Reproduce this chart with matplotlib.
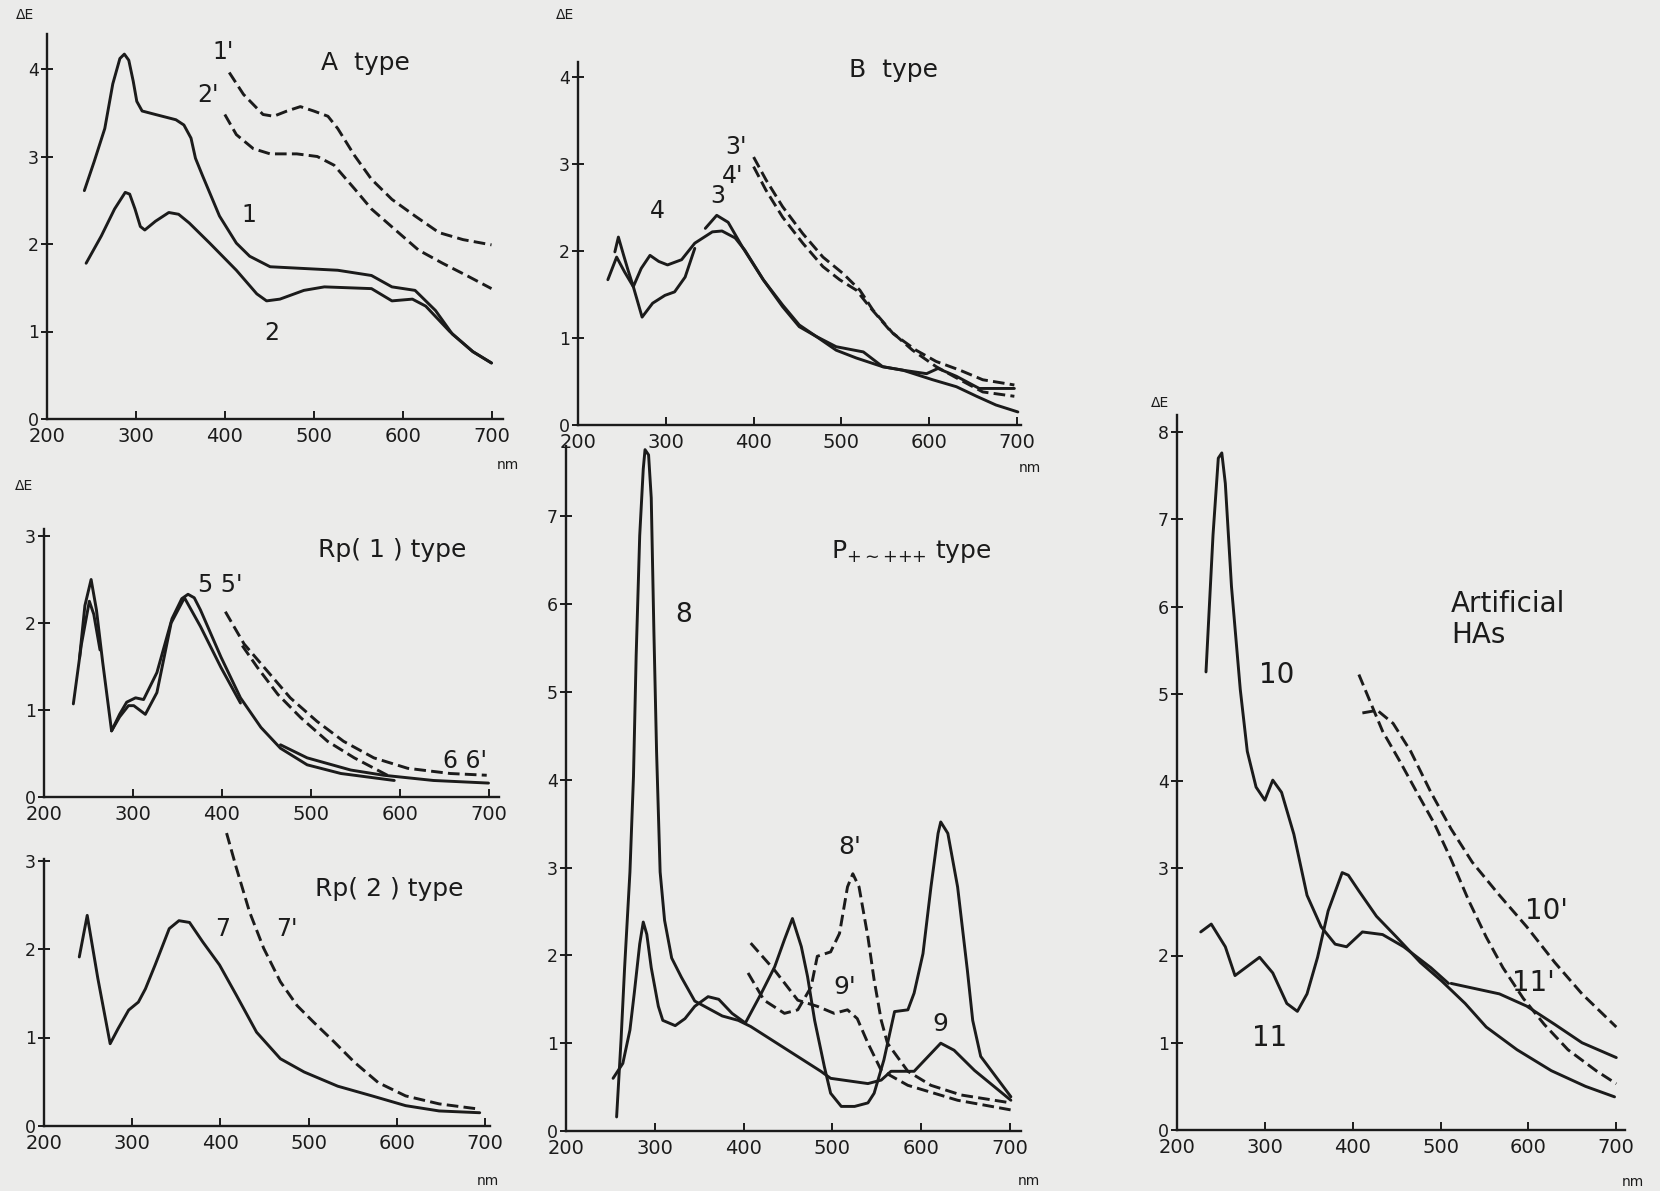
import numpy as np
import matplotlib.pyplot as plt

nan = np.nan
W, H = 1660, 1191
INK = '#1b1b1b'
PAPER = '#ebebea'

# ---- A type ----
a1_nm = [242, 253, 265, 274, 282, 287, 292, 297, 301, 307, 322, 345, 354, 362, 367, 375, 394, 413, 428,
         451, 489, 527, 565, 588, 614, 637, 656, 679, 700]
a1_de = [2.61, 2.94, 3.32, 3.83, 4.12, 4.17, 4.10, 3.86, 3.63, 3.52, 3.48, 3.42, 3.36, 3.21, 2.98, 2.78,
         2.32, 2.01, 1.86, 1.74, 1.72, 1.70, 1.64, 1.51, 1.47, 1.24, 0.97, 0.77, 0.64]
a2_nm = [244, 261, 276, 288, 293, 299, 305, 310, 322, 337, 348, 360, 383, 413, 436, 447, 462, 489, 512,
         565, 588, 611, 626, 653, 679, 700]
a2_de = [1.78, 2.09, 2.40, 2.59, 2.57, 2.40, 2.20, 2.16, 2.26, 2.36, 2.34, 2.24, 2.01, 1.70, 1.43, 1.35,
         1.37, 1.47, 1.51, 1.49, 1.35, 1.37, 1.29, 1.00, 0.77, 0.64]
a1d_nm = [405, 421, 443, 455, 470, 485, 500, 516, 527, 546, 565, 588, 614, 641, 668, 700]
a1d_de = [3.96, 3.71, 3.48, 3.46, 3.52, 3.57, 3.52, 3.46, 3.32, 3.01, 2.74, 2.51, 2.32, 2.13, 2.05, 1.99]
a2d_nm = [400, 413, 432, 451, 481, 504, 523, 546, 565, 592, 618, 645, 672, 700]
a2d_de = [3.48, 3.25, 3.09, 3.03, 3.03, 3.00, 2.90, 2.63, 2.40, 2.16, 1.93, 1.78, 1.64, 1.49]

# ---- B type ----
b3_nm = [234, 244, 253, 263, 273, 285, 299, 310, 322, 333, nan, 345, 358, 371, 387, 392, 411, 433, 452,
         471, 494, 517, 547, 570, 597, 610, 631, 657, 677, 697]
b3_de = [1.67, 1.93, 1.76, 1.59, 1.24, 1.40, 1.49, 1.53, 1.70, 2.03, nan, 2.26, 2.41, 2.33, 2.05, 1.97,
         1.67, 1.36, 1.13, 1.02, 0.86, 0.77, 0.67, 0.63, 0.59, 0.65, 0.56, 0.42, 0.42, 0.42]
b4_nm = [242, 246, 252, 257, 263, 272, 282, 292, 302, 318, 333, 353, 364, 379, 390, 411, 433, 452, 471,
         494, 525, 547, 570, 604, 631, 654, 676, 701]
b4_de = [1.99, 2.16, 1.95, 1.78, 1.59, 1.80, 1.95, 1.88, 1.84, 1.90, 2.09, 2.22, 2.23, 2.15, 2.01, 1.67,
         1.38, 1.15, 1.02, 0.90, 0.84, 0.67, 0.63, 0.52, 0.44, 0.33, 0.23, 0.15]
b3d_nm = [400, 414, 433, 456, 479, 502, 521, 536, 559, 585, 608, 635, 661, 697]
b3d_de = [3.08, 2.82, 2.51, 2.20, 1.93, 1.74, 1.55, 1.32, 1.05, 0.86, 0.73, 0.63, 0.52, 0.46]
b4d_nm = [400, 414, 433, 456, 479, 498, 517, 532, 555, 581, 608, 635, 661, 697]
b4d_de = [2.97, 2.70, 2.39, 2.09, 1.82, 1.67, 1.55, 1.36, 1.09, 0.86, 0.67, 0.52, 0.38, 0.33]

# ---- Rp(1) type ----
rp5_nm = [240, 246, 253, 259, 266, 276, 285, 293, 303, 312, 327, 344, 355, 362, 369, 376, 399, 421, 444,
          466, 496, 534, 594]
rp5_de = [1.60, 2.20, 2.50, 2.15, 1.55, 0.76, 0.95, 1.09, 1.14, 1.12, 1.43, 2.05, 2.28, 2.33, 2.29, 2.15,
          1.61, 1.14, 0.80, 0.56, 0.37, 0.27, 0.19]
rp6_nm = [233, 242, 251, 256, 263, nan, 276, 285, 295, 301, 314, 327, 343, 358, 376, 399, 421, nan,
          466, 496, 545, 582, 638, 700]
rp6_de = [1.07, 1.75, 2.25, 2.10, 1.69, nan, 0.76, 0.92, 1.05, 1.05, 0.95, 1.20, 2.00, 2.29, 1.96, 1.49,
          1.08, nan, 0.60, 0.45, 0.31, 0.25, 0.19, 0.16]
rp5d_nm = [404, 425, 451, 477, 507, 537, 571, 609, 657, 698]
rp5d_de = [2.13, 1.76, 1.45, 1.14, 0.87, 0.64, 0.45, 0.33, 0.27, 0.25]
rp6d_nm = [423, 440, 463, 489, 519, 549, 575, 590]
rp6d_de = [1.74, 1.49, 1.18, 0.91, 0.64, 0.45, 0.31, 0.23]

# ---- Rp(2) type ----
rp7_nm = [240, 249, 261, 275, 284, 296, 307, 315, 326, 342, 353, 365, 380, 399, 418, 441, 468, 495, 533,
          572, 610, 648, 694]
rp7_de = [1.91, 2.38, 1.67, 0.93, 1.10, 1.31, 1.40, 1.55, 1.82, 2.23, 2.32, 2.30, 2.08, 1.82, 1.48, 1.06,
          0.76, 0.61, 0.45, 0.34, 0.23, 0.17, 0.15]
rp7d_nm = [407, 418, 433, 449, 468, 487, 506, 529, 552, 579, 610, 648, 694]
rp7d_de = [3.31, 2.92, 2.42, 2.01, 1.63, 1.36, 1.17, 0.95, 0.72, 0.49, 0.34, 0.25, 0.19]

# ---- P type ----
p8_nm = [257, 262, 266, 272, 276, 279, 283, 287, 289, 293, 296, 299, 302, 306, 311, 319, 330, 345, 376,
         394, 408, 487, 498, 540, 555, 566, 592, 622, 637, 660, 701]
p8_de = [0.16, 1.04, 1.86, 2.95, 4.04, 5.41, 6.78, 7.54, 7.76, 7.70, 7.21, 5.68, 4.32, 2.95, 2.40, 1.97,
         1.75, 1.48, 1.31, 1.26, 1.19, 0.68, 0.60, 0.54, 0.58, 0.68, 0.68, 1.00, 0.92, 0.69, 0.35]
p9_nm = [253, 264, 272, 277, 283, 287, 291, 296, 304, 309, 323, 334, 345, 360, 372, 387, 402, 420, 435,
         446, 455, 465, 472, 480, 491, 498, 510, 525, 540, 547, 558, 570, 585, 592, 602, 611, 619, 622,
         630, 641, 652, 658, 667, 701]
p9_de = [0.60, 0.77, 1.15, 1.58, 2.13, 2.38, 2.24, 1.86, 1.42, 1.26, 1.20, 1.28, 1.42, 1.53, 1.50, 1.34,
         1.23, 1.57, 1.87, 2.18, 2.42, 2.10, 1.76, 1.26, 0.73, 0.43, 0.28, 0.28, 0.32, 0.43, 0.81, 1.36,
         1.38, 1.57, 2.02, 2.78, 3.39, 3.52, 3.39, 2.78, 1.83, 1.26, 0.85, 0.39]
p8d_nm = [405, 423, 446, 461, 476, 483, 498, 508, 517, 523, 530, 540, 547, 555, 562, 585, 611, 645, 701]
p8d_de = [1.80, 1.49, 1.34, 1.38, 1.64, 1.99, 2.04, 2.25, 2.78, 2.93, 2.78, 2.21, 1.72, 1.26, 1.00, 0.68,
          0.52, 0.41, 0.32]
p9d_nm = [408, 435, 461, 483, 502, 517, 528, 540, 555, 585, 641, 701]
p9d_de = [2.14, 1.83, 1.49, 1.42, 1.34, 1.38, 1.28, 1.00, 0.69, 0.52, 0.35, 0.24]

# ---- Artificial HAs ----
h10_nm = [233, 241, 247, 251, 255, 262, 272, 280, 290, 300, 309, 319, 333, 348, 364, 380, 393, 411, 434,
          458, 489, 509, nan, 512, 567, 598, 630, 661, 700]
h10_de = [5.25, 6.82, 7.70, 7.76, 7.41, 6.23, 5.05, 4.34, 3.93, 3.78, 4.01, 3.87, 3.39, 2.69, 2.33, 2.13,
          2.10, 2.27, 2.24, 2.10, 1.86, 1.68, nan, 1.68, 1.56, 1.42, 1.21, 1.00, 0.83]
h11_nm = [227, 239, 255, 266, 278, 294, 309, 325, 337, 348, 360, 372, 388, 395, 407, 427, 450, 477, 501,
          528, 552, 587, 626, 665, 698]
h11_de = [2.27, 2.36, 2.10, 1.77, 1.86, 1.98, 1.80, 1.45, 1.36, 1.56, 1.98, 2.51, 2.95, 2.92, 2.74, 2.45,
          2.21, 1.92, 1.71, 1.45, 1.18, 0.92, 0.68, 0.50, 0.38]
h10d_nm = [411, 428, 446, 466, 489, 512, 536, 567, 598, 630, 661, 700]
h10d_de = [4.78, 4.81, 4.66, 4.34, 3.87, 3.45, 3.07, 2.69, 2.33, 1.92, 1.56, 1.18]
h11d_nm = [407, 419, 434, 454, 473, 493, 512, 532, 552, 571, 594, 618, 645, 677, 700]
h11d_de = [5.22, 4.93, 4.57, 4.22, 3.87, 3.51, 3.10, 2.63, 2.21, 1.86, 1.51, 1.21, 0.92, 0.68, 0.53]

plt.rcParams['font.family'] = ['DejaVu Sans']
fig = plt.figure(figsize=(W / 100, H / 100), dpi=100, facecolor=PAPER)


def panel(x200, ppn, y0, ppu, xmax, ymax, yticks):
    # place an axes so that 200 nm sits at pixel x200 and 0 at pixel row y0
    right = x200 + (xmax - 200) * ppn
    top = y0 - ymax * ppu
    ax = fig.add_axes([x200 / W, 1 - y0 / H, (right - x200) / W, (y0 - top) / H])
    ax.set_xlim(200, xmax)
    ax.set_ylim(0, ymax)
    ax.patch.set_alpha(0)
    for s in ('top', 'right'):
        ax.spines[s].set_visible(False)
    for s in ('left', 'bottom'):
        ax.spines[s].set_color(INK)
        ax.spines[s].set_linewidth(1.7)
    ax.set_xticks(range(200, 701, 100))
    ax.set_yticks(yticks)
    ax.tick_params(axis='x', direction='in', length=6, width=1.4, colors=INK, labelsize=14, pad=6)
    ax.tick_params(axis='y', direction='inout', length=8, width=1.4, colors=INK, labelsize=12.5, pad=2)
    return ax


def solid(ax, x, y):
    ax.plot(x, y, color=INK, lw=2.1, clip_on=False, solid_capstyle='round', solid_joinstyle='round')


def dashed(ax, x, y):
    ax.plot(x, y, color=INK, lw=2.1, ls=(0, (4, 1.8)), clip_on=False)


def ftext(px, py, s, size, ha='center'):
    fig.text(px / W, 1 - py / H, s, fontsize=size, color=INK, ha=ha, va='center')


# A type
ax = panel(47, 0.889, 419, 87.5, 713, 4.4, range(0, 5))
solid(ax, a1_nm, a1_de)
solid(ax, a2_nm, a2_de)
dashed(ax, a1d_nm, a1d_de)
dashed(ax, a2d_nm, a2d_de)
ftext(365, 63, 'A  type', 18)
ftext(223, 52, "1'", 17)
ftext(208, 95, "2'", 17)
ftext(249, 215, '1', 17)
ftext(272, 333, '2', 17)
ftext(25, 15, 'ΔE', 10)
ftext(508, 465, 'nm', 10)

# B type
ax = panel(578, 0.878, 425, 87, 705, 4.17, range(0, 5))
solid(ax, b3_nm, b3_de)
solid(ax, b4_nm, b4_de)
dashed(ax, b3d_nm, b3d_de)
dashed(ax, b4d_nm, b4d_de)
ftext(893, 70, 'B  type', 18)
ftext(736, 147, "3'", 17)
ftext(733, 176, "4'", 17)
ftext(718, 196, '3', 17)
ftext(657, 211, '4', 17)
ftext(565, 15, 'ΔE', 10)
ftext(1030, 468, 'nm', 10)

# Rp(1) type
ax = panel(44, 0.889, 797, 87, 712, 3.08, range(0, 4))
solid(ax, rp5_nm, rp5_de)
solid(ax, rp6_nm, rp6_de)
dashed(ax, rp5d_nm, rp5d_de)
dashed(ax, rp6d_nm, rp6d_de)
ftext(392, 550, 'Rp( 1 ) type', 18)
ftext(220, 585, "5 5'", 17)
ftext(465, 761, "6 6'", 17)
ftext(24, 486, 'ΔE', 10)

# Rp(2) type
ax = panel(44, 0.882, 1126, 88.5, 706, 3.02, range(0, 4))
solid(ax, rp7_nm, rp7_de)
dashed(ax, rp7d_nm, rp7d_de)
ftext(389, 889, 'Rp( 2 ) type', 18)
ftext(223, 929, '7', 17)
ftext(287, 929, "7'", 17)
ftext(488, 1181, 'nm', 10)

# P type
ax = panel(566, 0.888, 1131, 87.8, 712, 7.8, range(0, 8))
solid(ax, p8_nm, p8_de)
solid(ax, p9_nm, p9_de)
dashed(ax, p8d_nm, p8d_de)
dashed(ax, p9d_nm, p9d_de)
ax.text(589, 6.6, r'P$_{{+}{\sim}{+}{+}{+}}$ type', fontsize=18, color=INK, ha='center', va='center')
ax.text(333, 5.88, '8', fontsize=19, color=INK, ha='center', va='center')
ax.text(519, 3.23, "8'", fontsize=18, color=INK, ha='center', va='center')
ax.text(514, 1.64, "9'", fontsize=18, color=INK, ha='center', va='center')
ax.text(621, 1.22, '9', fontsize=18, color=INK, ha='center', va='center')
ftext(1029, 1181, 'nm', 10)

# Artificial HAs
ax = panel(1177, 0.8786, 1130, 87.25, 710, 8.2, range(0, 9))
solid(ax, h10_nm, h10_de)
solid(ax, h11_nm, h11_de)
dashed(ax, h10d_nm, h10d_de)
dashed(ax, h11d_nm, h11d_de)
ax.text(512, 5.85, 'Artificial\nHAs', fontsize=20, color=INK, ha='left', va='center', linespacing=1.1)
ax.text(313, 5.22, '10', fontsize=20, color=INK, ha='center', va='center')
ax.text(305, 1.06, '11', fontsize=20, color=INK, ha='center', va='center')
ax.text(621, 2.51, "10'", fontsize=20, color=INK, ha='center', va='center')
ax.text(606, 1.68, "11'", fontsize=20, color=INK, ha='center', va='center')
ftext(1160, 403, 'ΔE', 10)
ftext(1633, 1182, 'nm', 10)

fig.savefig('out.png', dpi=100, facecolor=PAPER)
